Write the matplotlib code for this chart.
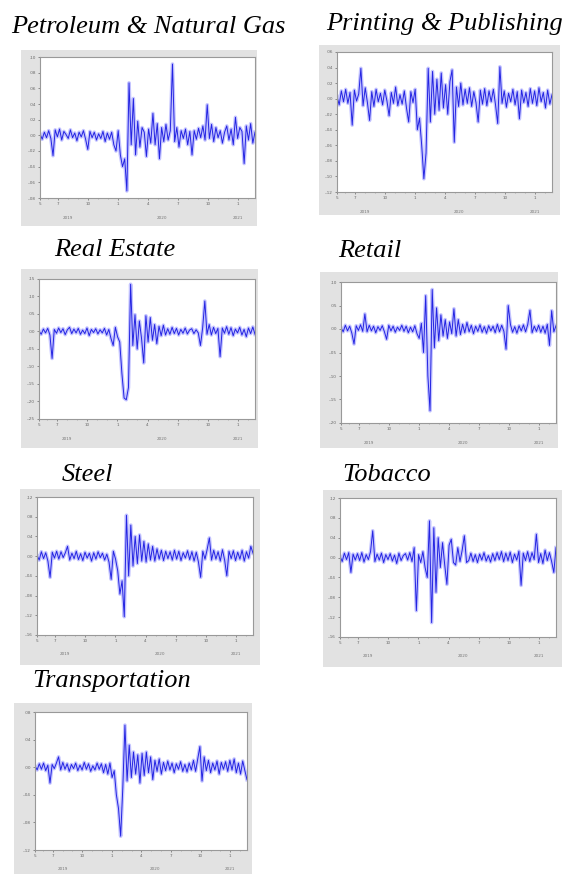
"""
Seven small sector return panels laid out like EViews screenshots.
"""
import matplotlib
matplotlib.use("Agg")
import matplotlib.pyplot as plt
from matplotlib.patches import Rectangle
import numpy as np

# ---- data (~100 samples per panel) ----
month_ticks = [4.2, 6, 9, 12, 15, 18, 21, 24]
month_labels = ["5", "7", "10", "1", "4", "7", "10", "1"]
year_labels = ["2019", "2020", "2021"]
year_pos = [7.0, 16.4, 24.0]
x_start, x_end = 4.2, 25.7

titles = ["Petroleum & Natural Gas", "Printing & Publishing", "Real Estate",
          "Retail", "Steel", "Tobacco", "Transportation"]

petroleum = [0.002, -0.005, 0.004, -0.003, 0.006, -0.004, -0.026, 0.007, -0.002, 0.008,
             -0.006, 0.005, 0.001, -0.004, 0.007, -0.003, 0.003, -0.007, 0.004, -0.002,
             0.006, -0.005, -0.018, 0.005, -0.003, 0.004, -0.006, 0.002, -0.004, 0.005,
             -0.008, 0.003, -0.005, 0.004, -0.012, -0.020, 0.006, -0.025, -0.040, -0.030,
             -0.071, 0.067, -0.012, 0.047, -0.025, 0.018, -0.015, 0.010, 0.004, -0.027,
             0.008, -0.010, 0.028, -0.012, 0.015, -0.030, 0.010, -0.008, 0.014, -0.006,
             0.006, 0.091, -0.008, 0.010, -0.015, 0.006, -0.004, 0.008, -0.012, 0.005,
             -0.025, 0.006, -0.005, 0.009, -0.003, 0.012, -0.006, 0.039, -0.004, 0.014,
             -0.008, 0.010, -0.003, 0.006, -0.010, 0.004, 0.012, -0.006, 0.008, -0.012,
             0.023, -0.004, 0.010, 0.005, -0.036, 0.012, -0.006, 0.015, -0.010, 0.004]
printing = [0.003, -0.008, 0.010, -0.004, 0.012, -0.006, 0.008, -0.034, 0.011, -0.003,
            0.006, 0.039, -0.009, 0.014, -0.005, -0.028, 0.009, -0.010, 0.012, -0.004,
            0.007, -0.008, 0.011, -0.003, -0.022, 0.008, -0.006, 0.015, -0.009, 0.005,
            -0.007, 0.010, -0.012, -0.030, 0.009, -0.005, 0.012, -0.040, -0.025, -0.060,
            -0.103, -0.070, 0.039, -0.030, 0.035, -0.020, 0.025, -0.015, 0.033, -0.012,
            0.018, -0.020, 0.022, 0.037, -0.056, 0.015, -0.010, 0.020, -0.008, 0.012,
            -0.006, 0.014, -0.010, 0.009, -0.005, -0.030, 0.011, -0.007, 0.013, -0.009,
            0.010, -0.004, 0.012, -0.008, -0.032, 0.041, -0.006, 0.010, -0.011, 0.007,
            -0.004, 0.012, -0.008, 0.009, -0.026, 0.011, -0.005, 0.008, -0.010, 0.013,
            -0.006, 0.010, -0.009, 0.014, -0.004, 0.008, -0.012, 0.011, -0.007, 0.005]
real_estate = [0.002, -0.008, 0.007, -0.004, 0.009, -0.010, -0.077, 0.006, -0.005, 0.010,
               -0.003, 0.008, -0.009, 0.005, 0.012, -0.006, 0.007, -0.004, 0.009, -0.008,
               0.004, -0.006, 0.010, -0.012, 0.006, -0.003, 0.008, -0.007, 0.005, -0.004,
               0.009, -0.010, 0.006, -0.020, -0.040, 0.012, -0.015, -0.030, -0.120, -0.190,
               -0.195, -0.160, 0.135, -0.040, 0.048, -0.050, 0.030, -0.020, -0.090, 0.045,
               -0.030, 0.040, -0.025, 0.020, -0.035, 0.015, -0.012, 0.018, -0.010, 0.008,
               -0.008, 0.012, -0.006, 0.009, -0.010, 0.006, -0.005, 0.010, -0.007, 0.004,
               0.008, -0.006, 0.005, -0.004, -0.040, 0.010, 0.087, -0.008, 0.020, -0.010,
               0.012, -0.006, 0.009, -0.072, 0.010, -0.005, 0.014, -0.008, 0.011, -0.012,
               0.007, -0.004, 0.012, -0.010, 0.006, -0.015, 0.010, -0.006, 0.013, -0.008]
retail = [0.003, -0.006, 0.008, -0.004, 0.006, -0.009, -0.032, 0.007, -0.003, 0.009,
          -0.005, 0.032, -0.006, 0.008, -0.004, 0.006, -0.008, 0.005, -0.003, 0.007,
          -0.006, -0.022, 0.008, -0.004, 0.006, -0.007, 0.004, -0.003, 0.008, -0.005,
          0.006, -0.008, 0.004, -0.006, 0.007, -0.010, -0.020, 0.012, -0.050, 0.071,
          -0.100, -0.174, 0.084, -0.040, 0.045, -0.025, 0.030, -0.015, 0.020, -0.020,
          0.015, -0.010, 0.043, -0.015, 0.020, -0.012, 0.010, -0.008, 0.014, -0.006,
          0.008, -0.010, 0.006, -0.005, 0.009, -0.007, 0.005, -0.009, 0.007, -0.004,
          0.006, -0.008, 0.010, -0.006, 0.008, -0.005, -0.043, 0.050, 0.010, -0.007,
          0.005, -0.009, 0.007, -0.004, 0.009, -0.006, 0.010, 0.040, -0.008, 0.006,
          -0.005, 0.008, -0.007, 0.006, -0.009, 0.010, -0.035, 0.039, -0.006, 0.007]
steel = [0.002, -0.008, 0.009, -0.005, 0.007, -0.010, -0.043, 0.008, -0.004, 0.010,
         -0.006, 0.009, -0.003, 0.007, 0.020, -0.008, 0.006, -0.005, 0.010, -0.007,
         0.005, -0.009, 0.008, -0.004, 0.006, -0.010, 0.007, -0.006, 0.009, -0.003,
         0.006, -0.008, 0.004, -0.012, -0.047, 0.010, -0.006, -0.030, -0.077, -0.050,
         -0.123, 0.083, -0.040, 0.063, -0.020, 0.040, -0.015, 0.043, -0.010, 0.030,
         -0.012, 0.025, -0.008, 0.020, -0.010, 0.015, -0.006, 0.012, -0.009, 0.010,
         -0.005, 0.009, -0.008, 0.012, -0.006, 0.010, -0.009, 0.007, -0.004, 0.011,
         -0.007, 0.009, -0.010, 0.008, -0.012, -0.043, 0.010, -0.006, 0.014, 0.037,
         -0.008, 0.012, -0.006, 0.009, -0.010, 0.013, -0.008, -0.040, 0.010, -0.005,
         0.011, -0.009, 0.008, -0.006, 0.012, -0.010, 0.009, -0.004, 0.020, 0.006]
tobacco = [0.003, -0.008, 0.009, -0.004, 0.010, -0.030, 0.007, -0.005, 0.008, -0.006,
           0.010, -0.009, 0.006, -0.004, 0.012, 0.054, -0.008, 0.007, -0.005, 0.009,
           -0.010, 0.006, -0.004, 0.008, -0.007, 0.005, -0.012, 0.009, -0.006, 0.004,
           0.008, -0.005, 0.010, -0.008, 0.020, -0.107, 0.006, -0.010, 0.012, -0.020,
           -0.040, 0.074, -0.131, 0.060, -0.070, 0.040, -0.020, 0.030, -0.015, -0.054,
           0.025, 0.037, -0.010, -0.015, 0.020, -0.008, 0.015, 0.044, -0.010, -0.006,
           0.009, -0.008, 0.006, -0.010, 0.007, -0.005, 0.010, -0.007, 0.004, -0.009,
           0.008, -0.006, 0.010, -0.004, 0.012, -0.008, 0.009, -0.006, 0.011, -0.010,
           0.007, -0.005, 0.013, -0.056, 0.009, -0.006, 0.012, -0.008, 0.010, -0.004,
           0.047, -0.010, 0.008, -0.012, 0.015, -0.006, 0.010, -0.008, -0.030, 0.020]
transportation = [0.002, -0.004, 0.005, -0.003, 0.006, -0.005, 0.003, -0.023, 0.004, -0.002,
                  0.006, 0.015, -0.004, 0.007, -0.003, 0.005, -0.006, 0.004, -0.002, 0.006,
                  -0.005, 0.003, -0.004, 0.007, -0.003, 0.005, -0.006, 0.002, -0.004, 0.006,
                  -0.003, 0.005, -0.008, 0.004, -0.010, 0.006, -0.015, -0.005, -0.040, -0.060,
                  -0.100, -0.030, 0.061, -0.020, 0.032, -0.015, 0.022, -0.010, 0.018, -0.023,
                  0.020, -0.012, 0.022, -0.008, 0.015, -0.018, 0.010, -0.006, 0.012, -0.010,
                  0.007, -0.005, 0.009, -0.004, 0.006, -0.008, 0.005, -0.003, 0.008, -0.006,
                  0.004, -0.007, 0.006, -0.004, 0.010, -0.006, 0.012, 0.030, -0.020, 0.015,
                  -0.005, 0.010, -0.008, 0.006, -0.004, 0.009, -0.010, 0.007, -0.003, 0.008,
                  -0.006, 0.010, -0.004, 0.012, -0.008, 0.006, -0.010, 0.009, -0.005, -0.018]

petroleum_yticks = [-0.08, -0.06, -0.04, -0.02, 0.00, 0.02, 0.04, 0.06, 0.08, 0.10]
printing_yticks = [-0.12, -0.10, -0.08, -0.06, -0.04, -0.02, 0.00, 0.02, 0.04, 0.06]
real_estate_yticks = [-0.25, -0.20, -0.15, -0.10, -0.05, 0.00, 0.05, 0.10, 0.15]
retail_yticks = [-0.20, -0.15, -0.10, -0.05, 0.00, 0.05, 0.10]
steel_yticks = [-0.16, -0.12, -0.08, -0.04, 0.00, 0.04, 0.08, 0.12]
tobacco_yticks = [-0.16, -0.12, -0.08, -0.04, 0.00, 0.04, 0.08, 0.12]
transportation_yticks = [-0.12, -0.08, -0.04, 0.00, 0.04, 0.08]

series = [petroleum, printing, real_estate, retail, steel, tobacco, transportation]
yticks = [petroleum_yticks, printing_yticks, real_estate_yticks, retail_yticks,
          steel_yticks, tobacco_yticks, transportation_yticks]

# panel geometry in pixels (left, top, right, bottom): gray frame, plot box, title anchor
W, H = 568, 874
frames = [(21, 50, 257, 226), (319, 45, 560, 215), (21, 269, 258, 448), (320, 272, 558, 448),
          (20, 489, 260, 665), (323, 490, 562, 667), (14, 703, 252, 874)]
plots = [(40, 57, 255, 198), (337, 52, 552, 192), (39, 279, 255, 419), (341, 282, 556, 423),
         (37, 497, 253, 635), (340, 498, 556, 637), (35, 712, 247, 850)]
title_xy = [(148, 33), (445, 30), (115, 256), (370, 257), (87, 481), (387, 481), (112, 687)]


def fmt_tick(v):
    s = f"{v:.2f}"
    return s.replace("0.", ".", 1)


fig = plt.figure(figsize=(W / 100, H / 100), dpi=100)
fig.patch.set_facecolor("white")

for k in range(7):
    l, t, r, b = frames[k]
    fig.patches.append(Rectangle((l / W, 1 - b / H), (r - l) / W, (b - t) / H,
                                 transform=fig.transFigure, facecolor="#e2e2e2",
                                 edgecolor="none", zorder=-5))
    l, t, r, b = plots[k]
    ax = fig.add_axes([l / W, 1 - b / H, (r - l) / W, (b - t) / H], zorder=2)
    ax.set_facecolor("white")

    x = np.linspace(x_start, x_end, len(series[k]))
    # soft wide stroke under a thin core, like the blurred dense daily line
    ax.plot(x, series[k], color="#8a8aff", lw=2.6, alpha=0.5)
    ax.plot(x, series[k], color="#2424e2", lw=0.7)

    ax.set_xlim(x_start, x_end)
    ax.set_ylim(yticks[k][0], yticks[k][-1])
    ax.set_yticks(yticks[k])
    ax.set_yticklabels([fmt_tick(v) for v in yticks[k]])
    ax.set_xticks(month_ticks)
    ax.set_xticklabels(month_labels)
    ax.set_xticks(np.arange(5, 26), minor=True)
    ax.tick_params(axis="both", which="major", labelsize=3, colors="#666666",
                   length=1.5, width=0.5, pad=1.5)
    ax.tick_params(axis="x", which="minor", length=1, width=0.4, colors="#888888")
    for sp in ax.spines.values():
        sp.set_color("#999999")
        sp.set_linewidth(0.8)

    for yl, yp in zip(year_labels, year_pos):
        ax.text(yp, -0.14, yl, transform=ax.get_xaxis_transform(), fontsize=3,
                color="#777777", ha="center", va="center")

    tx, ty = title_xy[k]
    fig.text(tx / W, 1 - ty / H, titles[k], family="Liberation Serif", style="italic",
             fontsize=19, ha="center", va="baseline", color="black")

fig.savefig("out.png", dpi=100)
